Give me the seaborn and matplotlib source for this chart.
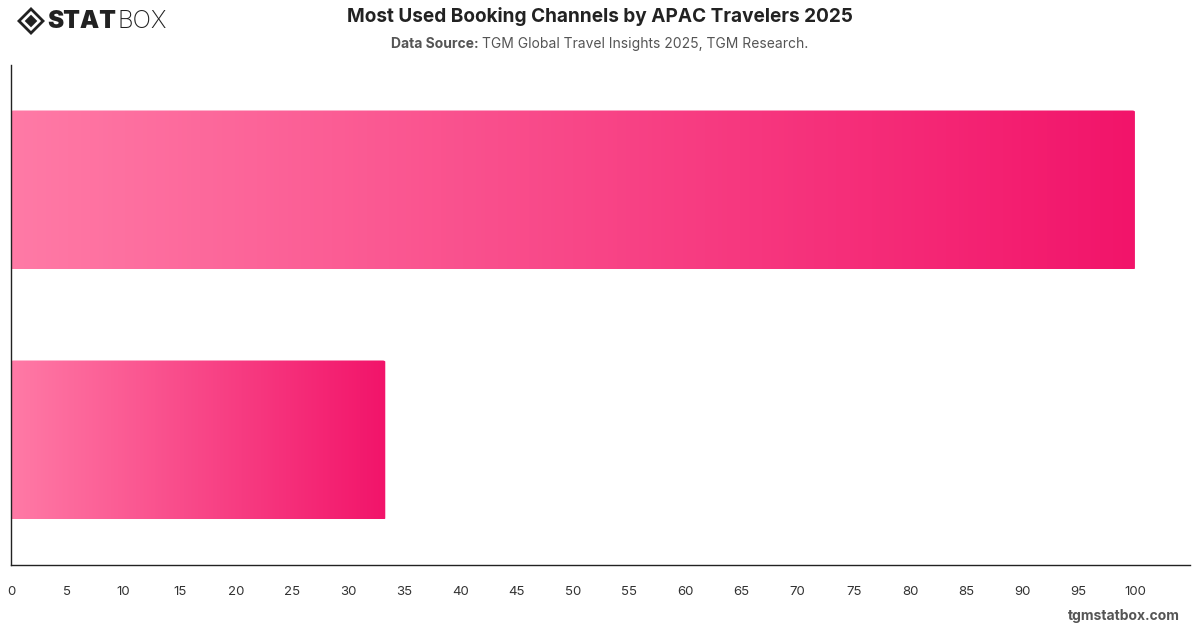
import numpy as np
import pandas as pd
import matplotlib
matplotlib.use("Agg")
import matplotlib.pyplot as plt
import seaborn as sns
from matplotlib.colors import LinearSegmentedColormap
from matplotlib.patches import Polygon, FancyBboxPatch

# ---- data ----
categories = ["Channel A", "Channel B"]
values = [100, 33.3]
x_ticks = list(range(0, 105, 5))

sns.set_theme(style="white")
plt.rcParams['font.family'] = ['Inter', 'DejaVu Sans']

fig = plt.figure(figsize=(12, 6.28), dpi=100)
ax = fig.add_axes([11/1200, 1-565/628, (1190-11)/1200, 500/628])

df = pd.DataFrame({"channel": categories, "value": values})
sns.barplot(data=df, x="value", y="channel", orient="h", ax=ax,
            width=0.636, color="#F2146A", saturation=1)

ax.set_xlim(0, 104.9)
ax.set_ylim(1.5, -0.5)

cmap = LinearSegmentedColormap.from_list("g", ["#FF7AA6", "#F2146A"])
grad = np.linspace(0, 1, 256).reshape(1, -1)
for p in list(ax.patches):
    x0, y0 = p.get_x(), p.get_y()
    w, h = p.get_width(), p.get_height()
    p.set_visible(False)
    clip = FancyBboxPatch((x0, y0), w, h,
                          boxstyle="round,pad=0,rounding_size=0.25",
                          mutation_aspect=0.02,
                          transform=ax.transData, facecolor="none", edgecolor="none")
    ax.add_patch(clip)
    im = ax.imshow(grad, cmap=cmap, aspect="auto",
                   extent=(x0, x0 + w, y0 + h, y0), zorder=2)
    im.set_clip_path(clip)

ax.set_xlim(0, 104.9)
ax.set_ylim(1.5, -0.5)
ax.set_xticks(x_ticks)
ax.set_xticklabels([str(t) for t in x_ticks], fontsize=9.5, color="#333333")
ax.set_yticks([])
ax.set_xlabel("")
ax.set_ylabel("")
ax.tick_params(axis="x", length=0, pad=15)
for s in ["top", "right"]:
    ax.spines[s].set_visible(False)
for s in ["left", "bottom"]:
    ax.spines[s].set_color("#222222")
    ax.spines[s].set_linewidth(1.0)

# Title & subtitle
fig.text(0.5, 1-17/628, "Most Used Booking Channels by APAC Travelers 2025",
         ha="center", va="center", fontsize=13.7, fontweight="bold", color="#222222")

renderer = fig.canvas.get_renderer()
sub_y = 1 - 44/628
a = fig.text(0, sub_y, "Data Source: ", ha="left", va="center", fontsize=10,
             fontweight="bold", color="#555555")
b = fig.text(0, sub_y, "TGM Global Travel Insights 2025, TGM Research.", ha="left",
             va="center", fontsize=10, color="#555555")
wa = a.get_window_extent(renderer).width
wb = b.get_window_extent(renderer).width
start = 600 - (wa + wb) / 2
a.set_x(start / 1200)
b.set_x((start + wa) / 1200)

# Logo
lx, ly = 31/1200, 1-21/628
s = 14/1200
sy = 14/628
outer = Polygon([[lx - s, ly], [lx, ly + sy], [lx + s, ly], [lx, ly - sy]],
                closed=True, transform=fig.transFigure, facecolor="#222222", edgecolor="none")
inner_ring = Polygon([[lx - s*0.72, ly], [lx, ly + sy*0.72], [lx + s*0.72, ly], [lx, ly - sy*0.72]],
                     closed=True, transform=fig.transFigure, facecolor="white", edgecolor="none")
inner = Polygon([[lx - s*0.45, ly], [lx, ly + sy*0.45], [lx + s*0.45, ly], [lx, ly - sy*0.45]],
                closed=True, transform=fig.transFigure, facecolor="#222222", edgecolor="none")
for pp in (outer, inner_ring, inner):
    fig.patches.append(pp)
t1 = fig.text(47/1200, ly, "STAT", ha="left", va="center", fontsize=17.5,
              fontweight="black", color="#222222")
bb = t1.get_window_extent(renderer)
fig.text(bb.x1/1200 + 0.001, ly, "BOX", ha="left", va="center", fontsize=17.5,
         fontweight="light", color="#222222")

# Watermark
fig.text(1180/1200, 1-616/628, "tgmstatbox.com", ha="right", va="center",
         fontsize=10, fontweight="bold", color="#555555")

fig.savefig("out.png", dpi=100, facecolor="white")
